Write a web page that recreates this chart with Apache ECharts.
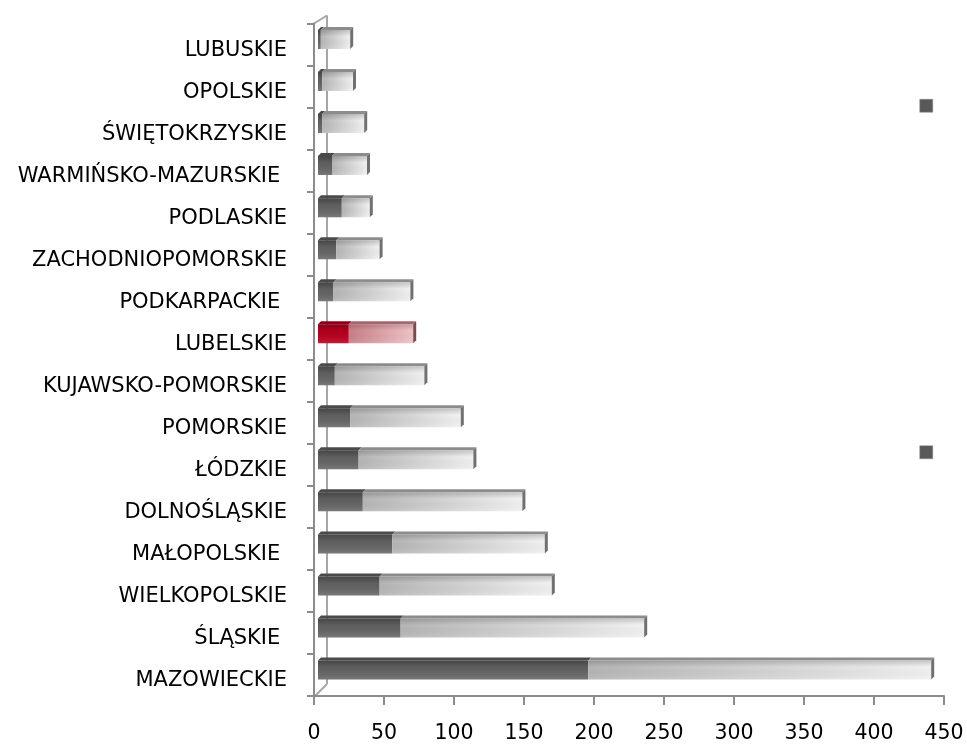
<!DOCTYPE html>
<html>
<head>
<meta charset="utf-8">
<script src="https://cdn.jsdelivr.net/npm/echarts@6/dist/echarts.min.js"></script>
<style>html,body{margin:0;padding:0;background:#fff}#c{width:967px;height:744px}</style>
</head>
<body>
<div id="c"></div>
<script>
// categories bottom -> top
var categories = ['MAZOWIECKIE','ŚLĄSKIE ','WIELKOPOLSKIE','MAŁOPOLSKIE ','DOLNOŚLĄSKIE','ŁÓDZKIE','POMORSKIE','KUJAWSKO-POMORSKIE','LUBELSKIE','PODKARPACKIE ','ZACHODNIOPOMORSKIE','PODLASKIE','WARMIŃSKO-MAZURSKIE ','ŚWIĘTOKRZYSKIE','OPOLSKIE','LUBUSKIE'];
var darkValues  = [193, 59, 44, 53, 32, 29, 23, 12, 22, 11, 13, 17, 10, 3, 3, 2];
var lightValues = [245, 174, 123, 109, 114, 82, 79, 64, 46, 55, 31, 20, 25, 30, 22, 21];
var highlight = 'LUBELSKIE';
var xTicks = [0, 50, 100, 150, 200, 250, 300, 350, 400, 450];

var chart = echarts.init(document.getElementById('c'));
var DX = 4, DY = -5, BH = 19, D = 3;
var FONT = 'DejaVu Sans';

function makeRender(isLight) {
  return function (params, api) {
    var idx = api.value(0);
    var start = api.value(1), end = api.value(2);
    var p0 = api.coord([start, idx]);
    var p1 = api.coord([end, idx]);
    var x0 = p0[0] + DX, x1 = p1[0] + DX;
    var cy = p0[1] + DY;
    var top = cy - BH / 2, bot = cy + BH / 2;
    var red = categories[idx] === highlight;
    var front, topCol;
    if (!isLight) {
      front = red ? new echarts.graphic.LinearGradient(0, 0, 0, 1, [{offset:0,color:'#a8001c'},{offset:1,color:'#c00020'}])
                  : new echarts.graphic.LinearGradient(0, 0, 0, 1, [{offset:0,color:'#555555'},{offset:0.5,color:'#626262'},{offset:1,color:'#6a6a6a'}]);
      topCol = red ? '#8a0018' : '#4a4a4a';
    } else {
      front = red ? new echarts.graphic.LinearGradient(0, 0, 1, 0, [{offset:0,color:'#c97e86'},{offset:1,color:'#f0c4c8'}])
                  : new echarts.graphic.LinearGradient(0, 0, 1, 0, [{offset:0,color:'#b5b5b5'},{offset:1,color:'#f2f2f2'}]);
      topCol = red ? '#a8646b' : '#8c8c8c';
    }
    var children = [
      {type:'polygon', shape:{points:[[x0,top],[x0+D,top-D],[x1+D,top-D],[x1,top]]}, style:{fill:topCol}},
      {type:'rect', shape:{x:x0, y:top, width:Math.max(0,x1-x0), height:BH}, style:{fill:front}},
      {type:'rect', shape:{x:x0, y:top, width:Math.max(0,x1-x0), height:BH},
        style:{fill:new echarts.graphic.LinearGradient(0,0,0,1,[{offset:0,color:'rgba(0,0,0,0.18)'},{offset:0.35,color:'rgba(0,0,0,0)'},{offset:1,color:'rgba(255,255,255,0.1)'}])}}
    ];
    if (isLight) {
      children.push({type:'polygon', shape:{points:[[x1,top],[x1+D,top-D],[x1+D,bot-D],[x1,bot]]}, style:{fill:red?'#7a4a4f':'#707070'}});
    }
    return {type:'group', children: children};
  };
}

var darkData = [], lightData = [];
for (var i = 0; i < categories.length; i++) {
  darkData.push([i, 0, darkValues[i]]);
  lightData.push([i, darkValues[i], darkValues[i] + lightValues[i]]);
}

var option = {
  animation: false,
  backgroundColor: '#fff',
  grid: {left: 314, right: 23, top: 23.5, bottom: 47, containLabel: false},
  legend: {
    orient: 'vertical', right: 29, top: 94, itemWidth: 13, itemHeight: 13, itemGap: 333,
    icon: 'rect', formatter: function(){ return ''; },
    data: [{name:'s1', itemStyle:{color:'#595959', borderColor:'#8a8a8a', borderWidth:0.5}},
           {name:'s2', itemStyle:{color:'#595959', borderColor:'#8a8a8a', borderWidth:0.5}}],
    selectedMode: false
  },
  xAxis: {
    type: 'value', min: 0, max: 450, interval: 50,
    axisLine: {show: true, lineStyle: {color: '#8c8c8c', width: 2}},
    axisTick: {show: true, length: 9, lineStyle: {color: '#8c8c8c', width: 2}},
    splitLine: {show: false},
    axisLabel: {color: '#000', fontFamily: FONT, fontSize: 20.5, margin: 27,
      formatter: function(v){ return xTicks.indexOf(v) >= 0 ? String(v) : ''; }}
  },
  yAxis: {
    type: 'category', data: categories,
    axisLine: {show: true, lineStyle: {color: '#8c8c8c', width: 2}},
    axisTick: {show: true, length: 7, lineStyle: {color: '#8c8c8c', width: 2}},
    axisLabel: {color: '#000', fontFamily: FONT, fontSize: 21, margin: 27,
      formatter: function(v){ return '{a|' + v + '}'; },
      rich: {a: {color: '#000', fontFamily: FONT, fontSize: 21, padding: [12, 0, 0, 0]}}}
  },
  series: [
    {name:'s1', type:'custom', renderItem: makeRender(false), data: darkData, encode:{x:[1,2], y:0}, color:'#595959'},
    {name:'s2', type:'custom', renderItem: makeRender(true), data: lightData, encode:{x:[1,2], y:0}, color:'#d9d9d9'}
  ]
};
chart.setOption(option);

// 3D frame decoration (back wall edge + floor diagonal)
var o = chart.convertToPixel({xAxisIndex:0}, 0);
var yTop = 23.5, yBot = 697;
chart.setOption({
  graphic: [
    {type:'line', shape:{x1:o+13, y1:yTop-8, x2:o+13, y2:yBot-13}, style:{stroke:'#a6a6a6', lineWidth:2}, z:-1},
    {type:'line', shape:{x1:o, y1:yBot, x2:o+13, y2:yBot-13}, style:{stroke:'#a6a6a6', lineWidth:2}, z:-1},
    {type:'line', shape:{x1:o, y1:yTop, x2:o+13, y2:yTop-8}, style:{stroke:'#a6a6a6', lineWidth:2}, z:-1}
  ]
});
</script>
</body>
</html>
